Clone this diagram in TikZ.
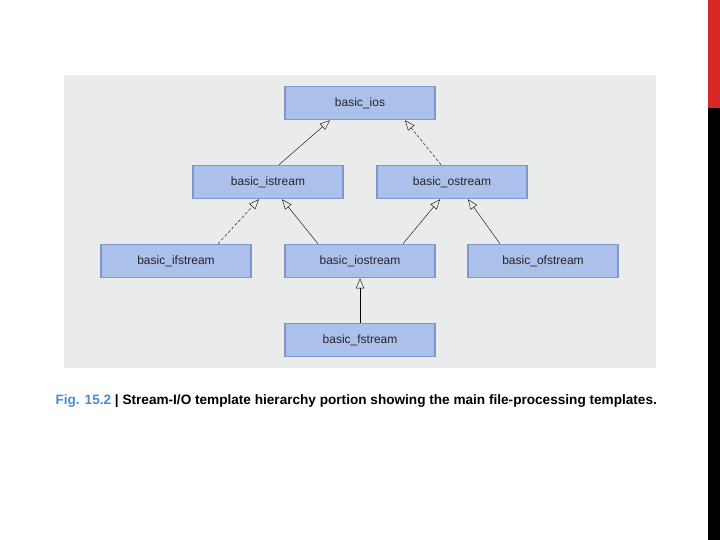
\documentclass[tikz,border=0pt]{standalone}
\usepackage{fontspec}
\setmainfont{Liberation Sans}
\usetikzlibrary{arrows.meta,positioning}
\definecolor{panelgray}{RGB}{234,236,236}
\definecolor{boxblue}{RGB}{172,192,236}
\definecolor{boxedge}{RGB}{128,150,205}
\definecolor{figblue}{RGB}{70,140,215}
\definecolor{barred}{RGB}{215,40,40}
\tikzset{classbox/.style={rectangle, draw=boxedge, line width=1.5pt, fill=boxblue, minimum width=150pt, minimum height=33pt, font=\fontsize{12}{14}\selectfont, text=black!85},
  inherit/.style={thin, -{Triangle[open,length=10pt,width=8pt]}}}
\begin{document}
\begin{tikzpicture}[x=1pt, y=-1pt]
    \useasboundingbox (0,0) rectangle (720,540);
    % background
    \fill[panelgray] (64,75) rectangle (656,368);
    \fill[barred] (708,0) rectangle (720,108);
    \fill[black] (708,108) rectangle (720,540);
    % Place nodes
    \node [classbox] (ios) at (360,103) {basic\_ios};
    \node [classbox] (istream) at (268,182) {basic\_istream};
    \node [classbox] (ostream) at (452,182) {basic\_ostream};
    \node [classbox] (ifstream) at (176,261) {basic\_ifstream};
    \node [classbox] (iostream) at (360,261) {basic\_iostream};
    \node [classbox] (ofstream) at (543,261) {basic\_ofstream};
    \node [classbox] (fstream) at (360,340) {basic\_fstream};

    \draw [inherit] ([xshift=11pt]istream.north) -- ([xshift=-30pt]ios.south);
    \draw [inherit, densely dashed] ([xshift=-11pt]ostream.north) -- ([xshift=45pt]ios.south);
    \draw [inherit, densely dashed] ([xshift=42pt]ifstream.north) -- ([xshift=-9pt]istream.south);
    \draw [inherit] ([xshift=-42pt]iostream.north) -- ([xshift=14pt]istream.south);
    \draw [inherit] ([xshift=43pt]iostream.north) -- ([xshift=-12pt]ostream.south);
    \draw [inherit] ([xshift=-43pt]ofstream.north) -- ([xshift=16pt]ostream.south);
    \draw [inherit] (fstream) -- (iostream);

    \node [anchor=west, font=\bfseries\fontsize{13.6}{16}\selectfont] (caption) at (52,401)
      {\textcolor{figblue}{Fig. 15.2} | Stream-I/O template hierarchy portion showing the main file-processing templates.};
\end{tikzpicture}
\end{document}
